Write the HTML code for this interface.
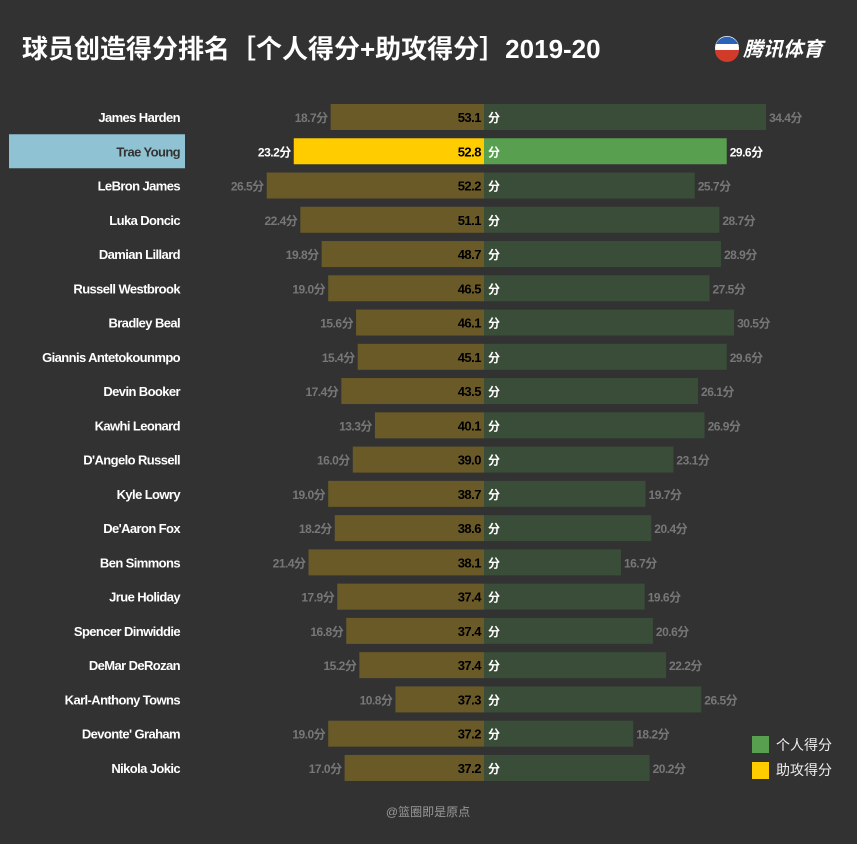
<!DOCTYPE html>
<html><head><meta charset="utf-8"><style>
body{margin:0;background:#323232;width:857px;height:839px;overflow:hidden;font-family:"Liberation Sans","Noto Sans CJK SC",sans-serif}
svg text{font-family:"Liberation Sans Narrow","Liberation Sans","Noto Sans CJK SC",sans-serif}
</style></head><body>
<svg id="chart" width="857" height="839" xmlns="http://www.w3.org/2000/svg">
<text x="22" y="58" fill="#fff" font-size="26" font-weight="bold">球员创造得分排名［个人得分+助攻得分］2019-20</text>
<g>
<circle cx="727" cy="48" r="12" fill="#fff"/>
<path d="M716,44 A12,12 0 0 1 738,44 Z" fill="#2a63b8"/>
<path d="M715,50 A12,12 0 0 0 739,50 Z" fill="#d23a2a"/>
<text x="743" y="56" fill="#fff" font-size="20" font-weight="bold" font-style="italic">腾讯体育</text>
</g>
<g id="rows"></g>
<g>
<rect x="752" y="736" width="17" height="17" fill="#58a04f"/>
<text x="776" y="750" fill="#eee" font-size="14">个人得分</text>
<rect x="752" y="762" width="17" height="17" fill="#ffcc00"/>
<text x="776" y="775" fill="#eee" font-size="14">助攻得分</text>
</g>
<text x="428" y="816" fill="#999" font-size="12" text-anchor="middle">@篮圈即是原点</text>
</svg>
<script>
const players=["James Harden","Trae Young","LeBron James","Luka Doncic","Damian Lillard","Russell Westbrook","Bradley Beal","Giannis Antetokounmpo","Devin Booker","Kawhi Leonard","D'Angelo Russell","Kyle Lowry","De'Aaron Fox","Ben Simmons","Jrue Holiday","Spencer Dinwiddie","DeMar DeRozan","Karl-Anthony Towns","Devonte' Graham","Nikola Jokic"];
const assistPts=[18.7,23.2,26.5,22.4,19.8,19.0,15.6,15.4,17.4,13.3,16.0,19.0,18.2,21.4,17.9,16.8,15.2,10.8,19.0,17.0];
const personalPts=[34.4,29.6,25.7,28.7,28.9,27.5,30.5,29.6,26.1,26.9,23.1,19.7,20.4,16.7,19.6,20.6,22.2,26.5,18.2,20.2];
const totals=["53.1","52.8","52.2","51.1","48.7","46.5","46.1","45.1","43.5","40.1","39.0","38.7","38.6","38.1","37.4","37.4","37.4","37.3","37.2","37.2"];
const highlight=1;
const NS="http://www.w3.org/2000/svg";
const cx=484,k=8.2;
const xL=v=>cx-v*k, xR=v=>cx+v*k, yC=i=>117+i*34.26;
const g=document.getElementById('rows');
function mk(tag,attrs,txt){const e=document.createElementNS(NS,tag);for(const a in attrs)e.setAttribute(a,attrs[a]);if(txt!=null)e.textContent=txt;g.appendChild(e);return e;}
players.forEach((p,i)=>{
 const y=yC(i),hi=i===highlight;
 if(hi){const b=mk('rect',{x:9,y:y-17,width:176,height:34,fill:'#8fc3d3'});
  
  }
 const n=mk('text',{x:180,y:y+5,fill:hi?'#333':'#fff','font-size':13,'font-weight':'bold','text-anchor':'end','letter-spacing':'-0.6'},p);
 
 
 const a=mk('rect',{x:xL(assistPts[i]),y:y-13,width:assistPts[i]*k,height:26,fill:hi?'#ffcc00':'#6a5a27'});
 
 
 const r=mk('rect',{x:cx,y:y-13,width:personalPts[i]*k,height:26,fill:hi?'#58a04f':'#3a4d38'});
 
 
 const t=mk('text',{x:cx-3,y:y+5,fill:'#000','font-size':13,'font-weight':'bold','text-anchor':'end','letter-spacing':'-0.5'},totals[i]);
 
 
 const f=mk('text',{x:cx+4,y:y+5,fill:'#fff','font-size':12,'font-weight':'bold'},'分');
 
 
 const la=mk('text',{x:xL(assistPts[i])-3,y:y+5,fill:hi?'#fff':'#777','font-size':12,'font-weight':'bold','text-anchor':'end','letter-spacing':'-0.5'},assistPts[i].toFixed(1)+'分');
 
 
 const lr=mk('text',{x:xR(personalPts[i])+3,y:y+5,fill:hi?'#fff':'#777','font-size':12,'font-weight':'bold','letter-spacing':'-0.5'},personalPts[i].toFixed(1)+'分');
 
 
});
</script>
</body></html>
